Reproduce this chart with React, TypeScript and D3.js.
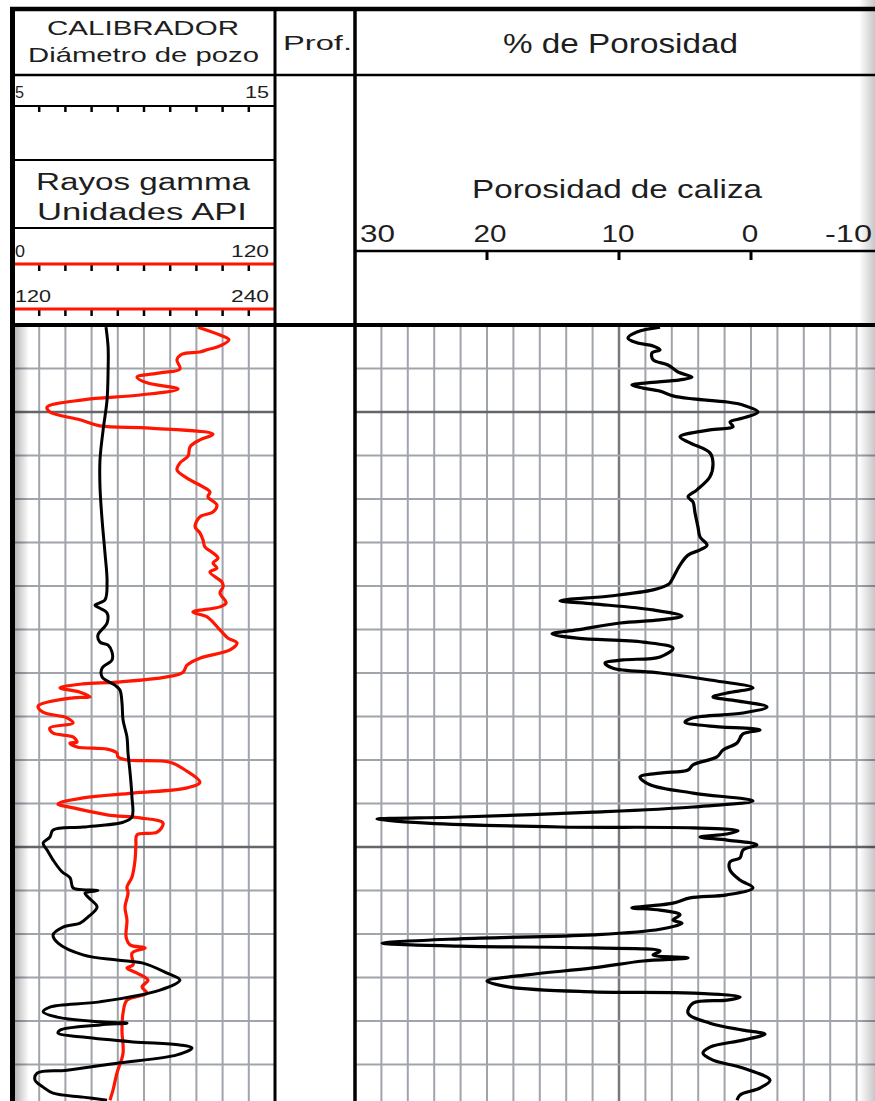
import React from "react";
import * as d3 from "d3";

// ---------- DATA ----------
// Caliper (hole diameter, inches) vs depth
const calDepth = [1500.5, 1505.1, 1510.3, 1517.2, 1524.1, 1531.0, 1537.2, 1544.8, 1552.4, 1559.1, 1563.2, 1564.4, 1565.1, 1566.2, 1568.5, 1571.3, 1572.9, 1573.6, 1575.2, 1577.0, 1578.9, 1580.9, 1582.8, 1583.9, 1586.9, 1590.8, 1594.7, 1598.4, 1603.0, 1608.5, 1613.1, 1614.3, 1615.4, 1616.1, 1617.7, 1619.1, 1620.7, 1623.0, 1625.7, 1627.1, 1629.4, 1629.8, 1630.0, 1630.6, 1631.5, 1633.8, 1636.1, 1637.5, 1638.4, 1640.2, 1642.1, 1644.8, 1646.0, 1646.7, 1649.0, 1650.6, 1652.9, 1655.6, 1656.8, 1657.9, 1659.1, 1660.2, 1660.5, 1660.9, 1662.1, 1662.8, 1663.7, 1664.8, 1665.5, 1666.2, 1667.8, 1669.7, 1671.3, 1672.0, 1673.6, 1675.2, 1676.6, 1677.5, 1678.2];
const calInches = [8.55, 8.63, 8.63, 8.59, 8.44, 8.32, 8.32, 8.40, 8.51, 8.59, 8.51, 8.13, 8.32, 8.59, 8.59, 8.24, 8.32, 8.63, 8.78, 8.78, 8.40, 8.40, 8.89, 9.08, 9.16, 9.20, 9.35, 9.39, 9.47, 9.54, 9.54, 9.20, 7.67, 6.53, 6.41, 6.15, 6.30, 6.53, 6.87, 7.18, 7.29, 7.63, 8.24, 7.75, 7.86, 8.21, 7.86, 7.56, 6.91, 6.53, 6.72, 7.67, 8.97, 9.96, 10.88, 11.37, 10.61, 8.32, 6.41, 6.15, 6.68, 8.32, 9.35, 8.32, 6.79, 6.72, 7.67, 9.58, 11.37, 11.83, 11.26, 8.97, 7.06, 5.92, 5.84, 6.15, 6.53, 7.67, 8.59];

// Gamma ray (API units) vs depth
const grDepth = [1500.5, 1502.3, 1503.4, 1504.8, 1505.7, 1506.2, 1506.7, 1508.0, 1510.1, 1511.0, 1512.0, 1513.3, 1514.7, 1516.1, 1517.2, 1518.9, 1520.0, 1521.8, 1523.2, 1523.7, 1525.1, 1526.4, 1528.0, 1530.1, 1531.7, 1533.3, 1535.2, 1537.2, 1538.4, 1539.5, 1541.4, 1543.0, 1544.1, 1546.4, 1547.8, 1549.4, 1551.0, 1552.4, 1553.6, 1554.7, 1555.9, 1556.8, 1559.1, 1560.2, 1561.6, 1563.9, 1564.8, 1566.0, 1567.1, 1570.1, 1572.0, 1573.1, 1574.7, 1576.6, 1578.2, 1579.8, 1580.9, 1582.1, 1582.5, 1583.4, 1584.4, 1585.5, 1585.7, 1587.6, 1589.0, 1590.3, 1591.5, 1592.6, 1593.8, 1594.7, 1595.9, 1596.1, 1597.0, 1597.5, 1598.4, 1599.3, 1600.0, 1600.5, 1602.3, 1605.1, 1606.4, 1607.6, 1608.7, 1610.1, 1611.0, 1612.6, 1613.3, 1614.5, 1616.6, 1617.2, 1619.5, 1623.0, 1626.9, 1629.2, 1630.6, 1633.8, 1636.8, 1640.7, 1642.5, 1643.2, 1644.4, 1647.1, 1647.8, 1649.0, 1650.6, 1652.2, 1653.6, 1655.2, 1658.2, 1662.1, 1667.4, 1672.0, 1675.9, 1678.2];
const grApi = [84.7, 94.8, 98.9, 94.8, 88.9, 85.6, 77.4, 75.1, 76.5, 67.3, 56.8, 61.4, 75.6, 58.2, 32.1, 15.6, 16.9, 30.7, 39.8, 62.7, 91.6, 85.6, 81.1, 80.2, 76.5, 75.1, 79.7, 87.0, 90.2, 89.3, 93.4, 91.6, 85.6, 83.4, 85.6, 87.0, 87.9, 91.6, 93.9, 91.6, 93.4, 90.2, 95.7, 96.2, 94.8, 97.6, 94.8, 82.4, 88.9, 94.8, 98.5, 102.6, 99.4, 85.6, 79.7, 77.9, 70.5, 47.6, 32.1, 21.5, 30.7, 35.3, 27.5, 11.5, 13.7, 24.7, 27.5, 16.9, 18.3, 27.5, 29.3, 26.1, 29.3, 43.1, 47.6, 48.1, 52.2, 71.9, 78.8, 85.6, 79.7, 55.0, 32.1, 20.6, 27.5, 43.1, 58.2, 68.7, 66.0, 56.8, 56.3, 55.9, 54.5, 52.2, 52.7, 51.3, 52.2, 51.8, 53.6, 60.5, 54.5, 55.0, 52.2, 56.8, 61.8, 59.1, 61.4, 52.2, 50.4, 49.9, 50.4, 47.6, 45.8, 44.4];

// Limestone porosity (%) vs depth
const porDepth = [1500.5, 1501.6, 1503.0, 1504.1, 1504.8, 1505.7, 1506.4, 1508.0, 1509.2, 1510.8, 1512.0, 1512.6, 1513.3, 1513.8, 1514.5, 1515.2, 1516.3, 1517.0, 1517.7, 1518.4, 1520.0, 1521.4, 1522.3, 1523.4, 1524.1, 1525.7, 1527.1, 1529.4, 1531.7, 1534.9, 1537.9, 1539.5, 1540.7, 1543.2, 1546.4, 1548.7, 1550.6, 1551.7, 1552.9, 1555.2, 1559.3, 1559.8, 1560.9, 1562.3, 1563.4, 1564.1, 1565.5, 1566.9, 1567.8, 1568.5, 1570.1, 1571.0, 1572.0, 1572.9, 1574.3, 1576.3, 1577.0, 1577.7, 1578.9, 1580.0, 1581.6, 1583.4, 1584.6, 1585.5, 1586.4, 1587.8, 1589.2, 1590.3, 1591.3, 1592.2, 1593.1, 1594.0, 1596.1, 1597.7, 1599.3, 1601.1, 1602.3, 1603.0, 1603.9, 1605.7, 1607.6, 1609.4, 1610.8, 1612.0, 1613.1, 1613.6, 1614.5, 1615.4, 1615.6, 1616.3, 1617.0, 1617.7, 1618.4, 1619.5, 1620.7, 1622.5, 1623.4, 1625.3, 1627.6, 1629.4, 1631.0, 1631.7, 1632.9, 1633.6, 1634.0, 1634.5, 1635.6, 1636.8, 1637.5, 1638.9, 1640.2, 1641.1, 1642.1, 1642.8, 1643.2, 1643.9, 1644.8, 1645.5, 1646.2, 1647.8, 1649.4, 1650.8, 1652.2, 1653.3, 1653.6, 1654.5, 1655.2, 1655.9, 1658.2, 1660.5, 1662.1, 1663.0, 1664.4, 1666.0, 1667.4, 1669.0, 1670.8, 1673.6, 1675.4, 1677.0, 1678.2];
const porValues = [6.89, 8.64, 9.32, 8.64, 7.42, 6.89, 7.50, 7.42, 6.29, 5.53, 4.47, 5.38, 7.88, 9.02, 8.18, 6.89, 5.91, 4.39, 1.82, 0.61, -0.53, 0.61, 1.59, 1.36, 3.11, 5.38, 4.62, 3.11, 2.88, 3.11, 4.09, 4.77, 4.39, 4.24, 4.02, 3.86, 3.33, 3.86, 4.77, 5.38, 6.14, 6.36, 7.42, 10.68, 14.47, 11.97, 7.42, 5.23, 6.89, 9.92, 13.18, 15.08, 13.18, 8.18, 5.91, 6.89, 9.70, 11.06, 10.45, 6.89, 3.11, -0.15, 1.82, 2.88, 1.06, -1.21, 0.61, 4.39, 5.0, 3.11, -0.68, 0.61, 1.06, 2.12, 2.58, 4.39, 4.77, 6.89, 8.41, 7.65, 4.39, -0.15, 4.39, 11.97, 22.05, 28.33, 24.55, 14.47, 4.39, 0.98, 1.82, 3.86, 1.82, -0.45, 0.61, 0.83, 1.59, 1.59, 0.83, -0.15, 1.82, 4.62, 5.91, 7.88, 9.02, 6.89, 5.38, 5.91, 5.23, 6.89, 11.97, 22.05, 27.95, 22.05, 11.97, 6.89, 7.42, 4.77, 8.18, 11.97, 16.97, 20.0, 18.26, 11.97, 4.39, 0.83, 1.82, 4.39, 4.77, 3.11, 0.61, -1.06, 0.61, 3.11, 3.64, 2.88, 0.61, -1.44, -0.68, 0.83, 1.06];

// Scales / tick labels
const calRange = [5, 15];
const grRange1 = [0, 120];
const grRange2 = [120, 240];
const porTicks = [30, 20, 10, 0, -10];
const porMarkedTicks = [20, 10, 0];
const majorDepths = [1520, 1620];
const depthRange = [1500, 1680];

const FONT = "'Liberation Sans', Arial, Helvetica, sans-serif";
const TXT = "#1e1e1e";

export default function App() {
  const W = 875;
  const H = 1101;
  const xL = 13, xM = 275, xP = 355, xR = 883;
  const gTop = 325;

  const y = d3.scaleLinear().domain(depthRange).range([gTop, gTop + (depthRange[1] - depthRange[0]) * 4.35]);
  const xCal = d3.scaleLinear().domain(calRange).range([xL, xM]);
  const xGr = d3.scaleLinear().domain(grRange1).range([xL, xM]);
  const xGr2 = d3.scaleLinear().domain(grRange2).range([xL, xM]);
  const xPor = d3.scaleLinear().domain([porTicks[0], porTicks[porTicks.length - 1]]).range([xP, xR]);

  const gridDepths = d3.range(depthRange[0], depthRange[1] + 0.01, 10);
  const leftGrid = d3.range(calRange[0] + 1, calRange[1], 1);
  const rightGrid = d3.range(28, -10, -2);

  const mkLine = (vals: number[], depths: number[], sx: (v: number) => number) =>
    d3
      .line<number>()
      .x((i) => sx(vals[i]))
      .y((i) => y(depths[i]))
      .curve(d3.curveCatmullRom.alpha(0.5))(d3.range(vals.length)) || "";

  const calPath = mkLine(calInches, calDepth, xCal);
  const grPath = mkLine(grApi, grDepth, xGr);
  const porPath = mkLine(porValues, porDepth, xPor);

  const gridC = "#a0a4ab";
  const gridDark = "#63666b";

  const lbl = (t: string, x: number, yy: number, size: number, len: number, anchor: string = "start") => (
    <text
      x={x}
      y={yy}
      fontSize={size}
      fontFamily={FONT}
      fill={TXT}
      textAnchor={anchor}
      textLength={len}
      lengthAdjust="spacingAndGlyphs"
    >
      {t}
    </text>
  );

  return (
    <svg
      width={W}
      height={H}
      viewBox={`0 0 ${W} ${H}`}
      style={{ position: "absolute", left: 0, top: 0, background: "#fff" }}
    >
      <defs>
        <clipPath id="clipL">
          <rect x={xL} y={gTop} width={xM - xL} height={H - gTop} />
        </clipPath>
        <clipPath id="clipR">
          <rect x={xP} y={gTop} width={W - xP} height={H - gTop} />
        </clipPath>
        <linearGradient id="shadeL" x1="0" x2="1" y1="0" y2="0">
          <stop offset="0" stopColor="#000" stopOpacity={0.28} />
          <stop offset="1" stopColor="#000" stopOpacity={0} />
        </linearGradient>
        <linearGradient id="shadeR" x1="0" x2="1" y1="0" y2="0">
          <stop offset="0" stopColor="#000" stopOpacity={0} />
          <stop offset="1" stopColor="#000" stopOpacity={0.22} />
        </linearGradient>
      </defs>
      <rect x={0} y={0} width={W} height={H} fill="#fff" />

      {/* Grid - left track */}
      <g>
        {leftGrid.map((v) => (
          <line key={"lv" + v} x1={xCal(v)} x2={xCal(v)} y1={gTop} y2={H} stroke={gridC} strokeWidth={2} />
        ))}
        {gridDepths.map((d) => (
          <line
            key={"lh" + d}
            x1={xL}
            x2={xM}
            y1={y(d)}
            y2={y(d)}
            stroke={majorDepths.includes(d) ? gridDark : gridC}
            strokeWidth={majorDepths.includes(d) ? 2.5 : 2}
          />
        ))}
      </g>
      {/* Grid - right track */}
      <g>
        {rightGrid.map((v) => (
          <line
            key={"rv" + v}
            x1={xPor(v)}
            x2={xPor(v)}
            y1={gTop}
            y2={H}
            stroke={v === 10 ? "#77797e" : gridC}
            strokeWidth={v === 10 ? 2.5 : 2}
          />
        ))}
        {gridDepths.map((d) => (
          <line
            key={"rh" + d}
            x1={xP}
            x2={W}
            y1={y(d)}
            y2={y(d)}
            stroke={majorDepths.includes(d) ? gridDark : gridC}
            strokeWidth={majorDepths.includes(d) ? 2.5 : 2}
          />
        ))}
      </g>
      <rect x={xL + 2} y={gTop} width={14} height={H - gTop} fill="url(#shadeL)" />
      <rect x={W - 16} y={0} width={16} height={H} fill="url(#shadeR)" />

      {/* Curves */}
      <g clipPath="url(#clipL)">
        <path d={grPath} fill="none" stroke="#ff1500" strokeWidth={3.2} strokeLinejoin="round" />
        <path d={calPath} fill="none" stroke="#000" strokeWidth={3} strokeLinejoin="round" />
      </g>
      <g clipPath="url(#clipR)">
        <path d={porPath} fill="none" stroke="#000" strokeWidth={3.2} strokeLinejoin="round" />
      </g>

      {/* Header texts */}
      {lbl("CALIBRADOR", 47, 35, 21, 192)}
      {lbl("Diámetro de pozo", 28, 62, 21, 231)}
      {lbl("Prof.", 283, 50, 21, 69)}
      {lbl(String(calRange[0]), 15, 98, 16.5, 9)}
      {lbl(String(calRange[1]), 269, 98, 16.5, 24, "end")}
      {lbl("Rayos gamma", 36, 190, 23, 214)}
      {lbl("Unidades API", 37, 220, 23, 210)}
      {lbl(String(grRange1[0]), 15, 257, 16.5, 10)}
      {lbl(String(grRange1[1]), 269, 257, 16.5, 38, "end")}
      {lbl(String(grRange2[0]), 15, 302, 16.5, 36)}
      {lbl(String(grRange2[1]), 269, 302, 16.5, 38, "end")}
      {lbl("% de Porosidad", 503, 53, 27, 235)}
      {lbl("Porosidad de caliza", 472, 198, 25, 290)}
      {porTicks.map((v, i) => {
        const s = String(v);
        if (i === 0) return <g key={"pt" + v}>{lbl(s, xPor(v) + 5, 242, 23, 35)}</g>;
        if (i === porTicks.length - 1) return <g key={"pt" + v}>{lbl(s, xPor(v) - 11, 242, 23, 47, "end")}</g>;
        return <g key={"pt" + v}>{lbl(s, xPor(v) + (v === 20 ? 3 : -1), 242, 23, s.length * 16.5, "middle")}</g>;
      })}

      {/* Header scale lines and ticks */}
      <line x1={xL} x2={xM} y1={106} y2={106} stroke="#000" strokeWidth={2} />
      {leftGrid.map((v) => (
        <line key={"ct" + v} x1={xCal(v)} x2={xCal(v)} y1={106} y2={112} stroke="#000" strokeWidth={2.5} />
      ))}
      <line x1={xL} x2={xM} y1={160} y2={160} stroke="#000" strokeWidth={2} />
      <line x1={xL} x2={xM} y1={228} y2={228} stroke="#000" strokeWidth={2} />
      {leftGrid.map((v) => (
        <line key={"gt1" + v} x1={xGr(grRange1[0] + (v - 5) * 12)} x2={xGr(grRange1[0] + (v - 5) * 12)} y1={265} y2={271} stroke="#000" strokeWidth={2.5} />
      ))}
      {leftGrid.map((v) => (
        <line key={"gt2" + v} x1={xGr2(grRange2[0] + (v - 5) * 12)} x2={xGr2(grRange2[0] + (v - 5) * 12)} y1={310} y2={316} stroke="#000" strokeWidth={2.5} />
      ))}
      <line x1={xL} x2={xM} y1={264} y2={264} stroke="#ff1500" strokeWidth={3} />
      <line x1={xL} x2={xM} y1={309} y2={309} stroke="#ff1500" strokeWidth={3} />
      <line x1={xP} x2={W} y1={251} y2={251} stroke="#000" strokeWidth={2.5} />
      {porMarkedTicks.map((v) => (
        <line key={"ptk" + v} x1={xPor(v)} x2={xPor(v)} y1={251} y2={260} stroke="#000" strokeWidth={3} />
      ))}

      {/* Frame lines */}
      <line x1={10} x2={W} y1={75} y2={75} stroke="#000" strokeWidth={2.5} />
      <line x1={10} x2={W} y1={gTop} y2={gTop} stroke="#000" strokeWidth={4} />
      <line x1={10} x2={W} y1={9} y2={9} stroke="#000" strokeWidth={4.5} />
      <line x1={12.5} x2={12.5} y1={7} y2={H} stroke="#000" strokeWidth={5} />
      <line x1={xM} x2={xM} y1={7} y2={H} stroke="#000" strokeWidth={3} />
      <line x1={xP} x2={xP} y1={7} y2={H} stroke="#000" strokeWidth={3.5} />
    </svg>
  );
}
